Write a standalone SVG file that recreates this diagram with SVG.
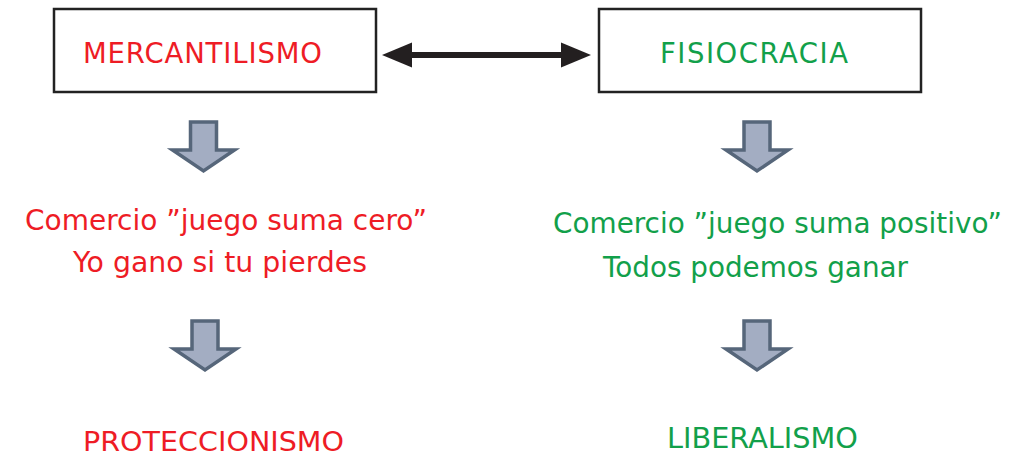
<svg xmlns="http://www.w3.org/2000/svg" width="1020" height="455" viewBox="0 0 1020 455">
<style>
.box{fill:#fff;stroke:#222;stroke-width:2.5}
.t{font-family:"DejaVu Sans",Verdana,sans-serif}
.red{fill:#ee1c25}
.green{fill:#12a04a}
.blk{fill:#a3adc2;stroke:#56667a;stroke-width:3.5;stroke-linejoin:miter}
</style>
<defs>
<path id="down" d="M-13,0 H13 V28 H31 L0,49 L-31,28 H-13 Z"/>
</defs>
<g id="mercantilismo">
<rect class="box" x="54" y="9" width="322" height="83"/>
<text class="t red" x="83" y="63" font-size="27.5" textLength="239">MERCANTILISMO</text>
</g>
<g id="fisiocracia">
<rect class="box" x="599" y="9" width="322" height="83"/>
<text class="t green" x="660" y="63" font-size="27.5" textLength="188">FISIOCRACIA</text>
</g>
<g id="connectors">
<path d="M410,55 H563" stroke="#231f20" stroke-width="6"/>
<path d="M382,55 L412,42.5 V67.5 Z" fill="#231f20"/>
<path d="M591,55 L561,42.5 V67.5 Z" fill="#231f20"/>
<use href="#down" class="blk" x="203.5" y="122"/>
<use href="#down" class="blk" x="205" y="321"/>
<use href="#down" class="blk" x="757" y="122"/>
<use href="#down" class="blk" x="757" y="321"/>
</g>
<g id="suma-cero">
<text class="t red" x="25" y="230" font-size="27.5" textLength="402" lengthAdjust="spacingAndGlyphs">Comercio ”juego suma cero”</text>
<text class="t red" x="73" y="272" font-size="27.5" textLength="294" lengthAdjust="spacingAndGlyphs">Yo gano si tu pierdes</text>
</g>
<g id="suma-positivo">
<text class="t green" x="553" y="233" font-size="27.5" textLength="449" lengthAdjust="spacingAndGlyphs">Comercio ”juego suma positivo”</text>
<text class="t green" x="603" y="277" font-size="27.5" textLength="305" lengthAdjust="spacingAndGlyphs">Todos podemos ganar</text>
</g>
<g id="proteccionismo">
<text class="t red" x="83" y="451" font-size="27" textLength="261" lengthAdjust="spacingAndGlyphs">PROTECCIONISMO</text>
</g>
<g id="liberalismo">
<text class="t green" x="667" y="448" font-size="27.5" textLength="191" lengthAdjust="spacingAndGlyphs">LIBERALISMO</text>
</g>
</svg>
